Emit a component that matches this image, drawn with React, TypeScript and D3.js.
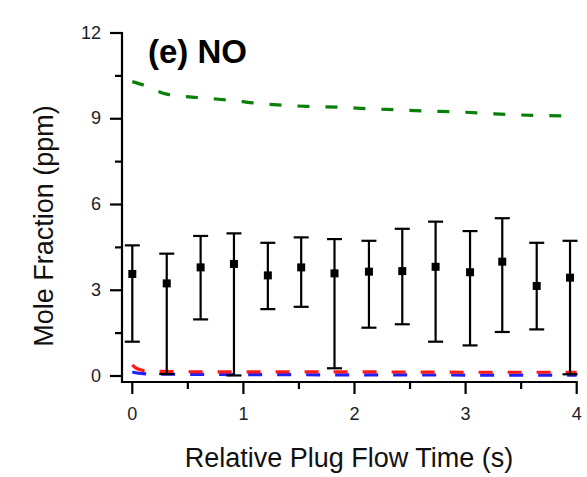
import * as d3 from "d3";

// measured NO mole fraction (ppm) with error bars
const times = [0, 0.31, 0.615, 0.915, 1.22, 1.52, 1.82, 2.13, 2.43, 2.73, 3.04, 3.33, 3.64, 3.94];
const measured = [3.57, 3.24, 3.8, 3.92, 3.52, 3.8, 3.59, 3.65, 3.67, 3.82, 3.63, 4.0, 3.15, 3.44];
const errTop = [4.57, 4.28, 4.9, 4.99, 4.66, 4.85, 4.79, 4.73, 5.15, 5.4, 5.07, 5.52, 4.66, 4.73];
const errBottom = [1.2, 0.07, 1.98, 0.02, 2.34, 2.42, 0.27, 1.69, 1.81, 1.2, 1.07, 1.54, 1.63, 0.06];

// model curves
const greenT = [0, 0.1, 0.3, 0.6, 0.93, 1.1, 1.36, 1.6, 1.87, 2.13, 2.39, 2.65, 2.92, 3.18, 3.44, 3.7, 4.0];
const greenV = [10.3, 10.18, 9.87, 9.74, 9.63, 9.55, 9.47, 9.43, 9.4, 9.35, 9.31, 9.27, 9.24, 9.19, 9.14, 9.11, 9.1];
const redT = [0, 0.04, 0.12, 0.4, 1, 2, 3, 4];
const redV = [0.35, 0.22, 0.14, 0.11, 0.1, 0.1, 0.09, 0.09];
const blueT = [0, 0.1, 0.4, 1, 2, 4];
const blueV = [0.14, 0.08, 0.06, 0.05, 0.04, 0.03];

const xTicks = [0, 1, 2, 3, 4];
const xMinor = [0.5, 1.5, 2.5, 3.5];
const yTicks = [0, 3, 6, 9, 12];
const yMinor = [1.5, 4.5, 7.5, 10.5];

const W = 587,
  H = 477;
const font = "Arial, 'Liberation Sans', sans-serif";

export default function App() {
  const x = d3.scaleLinear().domain([0, 4]).range([132.3, 576.7]);
  const y = d3.scaleLinear().domain([0, 12]).range([376, 33]);
  const axisX = 122,
    axisY = 382;

  const line = (ts: number[], vs: number[]) =>
    d3
      .line<number>()
      .x((d, i) => x(ts[i]))
      .y((d) => y(d))
      .curve(d3.curveMonotoneX)(vs) as string;

  return (
    <svg
      width={W}
      height={H}
      style={{ position: "absolute", left: 0, top: 0, background: "#fff" }}
    >
      <rect x={0} y={0} width={W} height={H} fill="#fff" />

      {/* model lines */}
      <path d={line(greenT, greenV)} fill="none" stroke="#0a800a" strokeWidth={3.2} strokeDasharray="12 16" />
      <path d={line(blueT, blueV)} fill="none" stroke="#1f1fff" strokeWidth={3.2} strokeDasharray="14 15" />
      <path
        d={line(redT, redV)}
        fill="none"
        stroke="#ff1a1a"
        strokeWidth={3.2}
        strokeDasharray="14 15"
        transform="translate(0,-1.2)"
      />

      {/* error bars */}
      {times.map((t, i) => {
        const cx = x(t);
        return (
          <g key={i} stroke="#000" strokeWidth={2.2}>
            <line x1={cx} x2={cx} y1={y(errTop[i])} y2={y(errBottom[i])} />
            <line x1={cx - 7.5} x2={cx + 7.5} y1={y(errTop[i])} y2={y(errTop[i])} />
            <line x1={cx - 7.5} x2={cx + 7.5} y1={y(errBottom[i])} y2={y(errBottom[i])} />
            <rect x={cx - 4} y={y(measured[i]) - 4} width={8} height={8} fill="#000" stroke="none" />
          </g>
        );
      })}

      {/* axes */}
      <g stroke="#000" strokeWidth={2.2} fill="none">
        <line x1={axisX} x2={axisX} y1={y(12) - 1} y2={axisY + 1} />
        <line x1={axisX - 1} x2={x(4) + 1} y1={axisY} y2={axisY} />
        {yTicks.map((v) => (
          <line key={"yt" + v} x1={axisX - 12} x2={axisX} y1={y(v)} y2={y(v)} />
        ))}
        {yMinor.map((v) => (
          <line key={"ym" + v} x1={axisX - 7} x2={axisX} y1={y(v)} y2={y(v)} />
        ))}
        {xTicks.map((v) => (
          <line key={"xt" + v} x1={x(v)} x2={x(v)} y1={axisY} y2={axisY + 12} />
        ))}
        {xMinor.map((v) => (
          <line key={"xm" + v} x1={x(v)} x2={x(v)} y1={axisY} y2={axisY + 7} />
        ))}
      </g>

      <g fontFamily={font} fontSize={18} fill="#1c1c28">
        {yTicks.map((v) => (
          <text key={"yl" + v} x={101} y={y(v) + 5.5} textAnchor="end">
            {v}
          </text>
        ))}
        {xTicks.map((v) => (
          <text key={"xl" + v} x={x(v)} y={419.5} textAnchor="middle">
            {v}
          </text>
        ))}
      </g>

      <text x={349} y={467} fontFamily={font} fontSize={27} textAnchor="middle" fill="#111">
        Relative Plug Flow Time (s)
      </text>
      <text
        transform="translate(53,226) rotate(-90)"
        fontFamily={font}
        fontSize={27}
        textAnchor="middle"
        fill="#111"
      >
        Mole Fraction (ppm)
      </text>
      <text x={148} y={63} fontFamily={font} fontSize={33} fontWeight="bold" fill="#000">
        (e) NO
      </text>
    </svg>
  );
}
